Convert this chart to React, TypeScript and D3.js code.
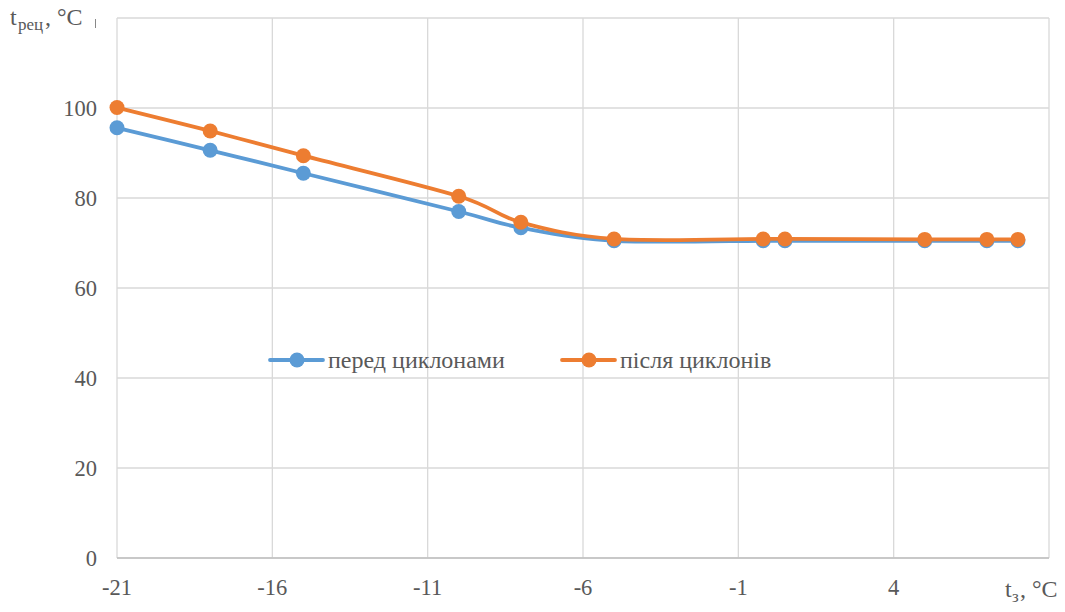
import React from "react";
import * as d3 from "d3";

const tOutdoor = [-21, -18, -15, -10, -8, -5, -0.2, 0.5, 5, 7, 8];
const beforeCyclones = [95.6, 90.6, 85.5, 77.0, 73.4, 70.5, 70.5, 70.5, 70.5, 70.5, 70.5];
const afterCyclones = [100.1, 94.9, 89.4, 80.4, 74.6, 70.9, 70.9, 70.9, 70.8, 70.8, 70.8];
const xTicks = [-21, -16, -11, -6, -1, 4];
const yTicks = [0, 20, 40, 60, 80, 100];
const seriesNames = ["перед циклонами", "після циклонів"];
const seriesColors = ["#5B9BD5", "#ED7D31"];

const W = 1065;
const H = 612;
const left = 117;
const right = 1049;
const top = 18;
const bottom = 558;
const FONT = "Liberation Serif";

export default function App() {
  const x = d3.scaleLinear().domain([-21, 9]).range([left, right]);
  const y = d3.scaleLinear().domain([0, 120]).range([bottom, top]);
  const series = [beforeCyclones, afterCyclones];
  const line = d3
    .line<[number, number]>()
    .x((d) => x(d[0]))
    .y((d) => y(d[1]))
    .curve(d3.curveCardinal.tension(0));
  const textColor = "#595959";
  const gridY = [...yTicks, 120];
  const gridX = [...xTicks, 9];
  const legendX = [270, 562];
  const legendY = 360;

  return (
    <svg width={W} height={H} fontFamily={FONT} style={{ position: "absolute", left: 0, top: 0 }}>
      <rect x={0} y={0} width={W} height={H} fill="#fff" />
      {gridY.map((v) => (
        <line key={"gy" + v} x1={left} x2={right} y1={y(v)} y2={y(v)} stroke="#D9D9D9" strokeWidth={1.3} />
      ))}
      {gridX.map((v) => (
        <line key={"gx" + v} x1={x(v)} x2={x(v)} y1={top} y2={bottom} stroke="#D9D9D9" strokeWidth={1.3} />
      ))}
      <line x1={left} x2={right} y1={bottom} y2={bottom} stroke="#BFBFBF" strokeWidth={1.3} />
      {yTicks.map((v) => (
        <text key={"yt" + v} x={97} y={y(v) + 7.5} textAnchor="end" fontSize={22.5} fill={textColor}>
          {String(v)}
        </text>
      ))}
      {xTicks.map((v) => (
        <text key={"xt" + v} x={x(v)} y={595} textAnchor="middle" fontSize={22.5} fill={textColor}>
          {String(v)}
        </text>
      ))}
      <text x={10} y={25} fontSize={24} fill={textColor}>t</text>
      <text x={18} y={30} fontSize={17} fill={textColor}>рец</text>
      <text x={45} y={25} fontSize={24} fill={textColor}>, °C</text>
      <line x1={95.5} x2={95.5} y1={19} y2={28} stroke="#888" strokeWidth={1} />
      <text x={1005} y={597} fontSize={24} fill={textColor}>t</text>
      <text x={1012} y={602} fontSize={17} fill={textColor}>з</text>
      <text x={1020} y={597} fontSize={24} fill={textColor}>, °C</text>
      {series.map((vals, i) => {
        const pts = tOutdoor.map((t, j) => [t, vals[j]] as [number, number]);
        return (
          <g key={"s" + i}>
            <path d={line(pts) || ""} fill="none" stroke={seriesColors[i]} strokeWidth={3.8} strokeLinecap="round" />
            {pts.map((p, j) => (
              <circle key={j} cx={x(p[0])} cy={y(p[1])} r={7.5} fill={seriesColors[i]} />
            ))}
          </g>
        );
      })}
      {seriesNames.map((name, i) => (
        <g key={"lg" + i}>
          <line x1={legendX[i]} x2={legendX[i] + 53} y1={legendY} y2={legendY} stroke={seriesColors[i]} strokeWidth={3.8} strokeLinecap="round" />
          <circle cx={legendX[i] + 27} cy={legendY} r={7.5} fill={seriesColors[i]} />
          <text x={legendX[i] + 58} y={legendY + 7.5} fontSize={24} fill={textColor}>
            {name}
          </text>
        </g>
      ))}
    </svg>
  );
}
